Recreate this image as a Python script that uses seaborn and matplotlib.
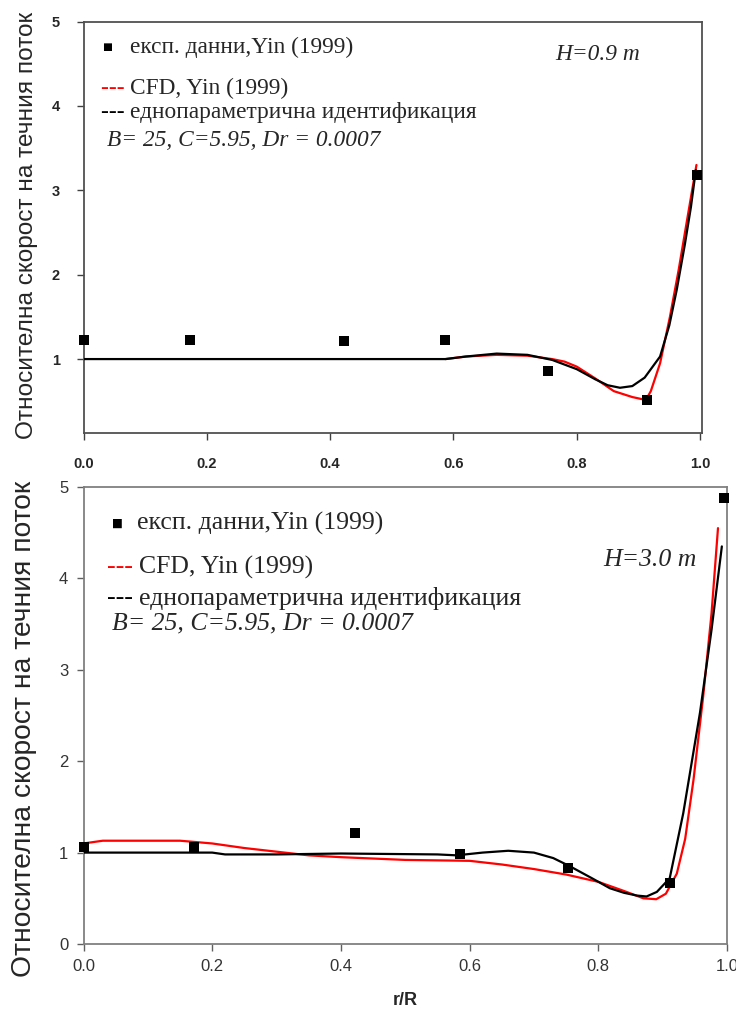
import matplotlib
matplotlib.use("Agg")
import matplotlib.pyplot as plt
import seaborn as sns

# ---------------- data ----------------
# top panel (H = 0.9 m)
exp_x_top = [0.0, 0.172, 0.423, 0.587, 0.753, 0.913, 0.995]
exp_y_top = [1.23, 1.23, 1.21, 1.23, 0.86, 0.515, 3.18]

cfd_x_top = [0.587, 0.62, 0.67, 0.72, 0.76, 0.78, 0.80, 0.83, 0.86, 0.89, 0.912,
             0.92, 0.935, 0.951, 0.965, 0.98, 0.994]
cfd_y_top = [1.0, 1.03, 1.05, 1.04, 1.0, 0.97, 0.91, 0.77, 0.62, 0.55, 0.515,
             0.62, 0.95, 1.5, 2.05, 2.7, 3.3]

id_x_top = [0.0, 0.587, 0.62, 0.67, 0.72, 0.76, 0.80, 0.83, 0.85, 0.87, 0.89,
            0.91, 0.935, 0.95, 0.962, 0.975, 0.985, 0.993]
id_y_top = [1.0, 1.0, 1.03, 1.065, 1.05, 0.99, 0.88, 0.76, 0.69, 0.66, 0.68,
            0.78, 1.03, 1.4, 1.82, 2.35, 2.8, 3.24]

# bottom panel (H = 3.0 m)
exp_x_bot = [0.0, 0.172, 0.422, 0.585, 0.753, 0.911, 0.995]
exp_y_bot = [1.06, 1.06, 1.21, 0.98, 0.83, 0.67, 4.88]

cfd_x_bot = [0.0, 0.03, 0.08, 0.15, 0.2, 0.25, 0.3, 0.35, 0.4, 0.5, 0.6, 0.65,
             0.7, 0.75, 0.8, 0.84, 0.87, 0.89, 0.905, 0.922, 0.935, 0.948,
             0.963, 0.976, 0.986]
cfd_y_bot = [1.1, 1.13, 1.13, 1.13, 1.1, 1.05, 1.01, 0.97, 0.95, 0.92, 0.91, 0.87,
             0.82, 0.76, 0.68, 0.58, 0.50, 0.49, 0.55, 0.77, 1.15, 1.8,
             2.71, 3.62, 4.55]

id_x_bot = [0.0, 0.2, 0.22, 0.3, 0.4, 0.55, 0.58, 0.62, 0.66, 0.7, 0.73, 0.756,
            0.79, 0.818, 0.84, 0.86, 0.875, 0.891, 0.911, 0.932, 0.958, 0.976, 0.992]
id_y_bot = [1.0, 1.0, 0.98, 0.98, 0.99, 0.98, 0.97, 1.0, 1.02, 1.0, 0.94, 0.85,
            0.72, 0.61, 0.56, 0.53, 0.52, 0.57, 0.72, 1.43, 2.53, 3.44, 4.35]

x_ticks = [0.0, 0.2, 0.4, 0.6, 0.8, 1.0]
y_ticks_top = [1, 2, 3, 4, 5]
y_ticks_bot = [0, 1, 2, 3, 4, 5]

ylabel_text = "Относителна скорост на течния поток"
xlabel_text = "r/R"
leg_exp = "експ. данни,Yin (1999)"
leg_cfd = "CFD, Yin (1999)"
leg_id = "еднопараметрична идентификация"
leg_par = "B= 25, C=5.95, Dr = 0.0007"
h_top = "H=0.9 m"
h_bot = "H=3.0 m"

# ---------------- style ----------------
sns.set_style("ticks")
plt.rcParams['font.family'] = ['Liberation Sans', 'DejaVu Sans']

SERIF = ['Liberation Serif', 'DejaVu Serif']

fig = plt.figure(figsize=(7.36, 10.15), dpi=100)
W, H = 736.0, 1015.0
ax1 = fig.add_axes([83.5 / W, 1 - 433 / H, 618.5 / W, 411.5 / H])
ax2 = fig.add_axes([83.5 / W, 1 - 944 / H, 643.5 / W, 457 / H])


def draw(ax, ex, ey, cx, cy, ix, iy):
    sns.lineplot(x=cx, y=cy, ax=ax, color='#ff0000', lw=1.6, sort=False,
                 estimator=None, zorder=3)
    sns.lineplot(x=ix, y=iy, ax=ax, color='black', lw=1.6, sort=False,
                 estimator=None, zorder=4)
    sns.scatterplot(x=ex, y=ey, ax=ax, marker='s', color='black', s=60,
                    edgecolor='black', linewidth=0, zorder=5, clip_on=False)


draw(ax1, exp_x_top, exp_y_top, cfd_x_top, cfd_y_top, id_x_top, id_y_top)
draw(ax2, exp_x_bot, exp_y_bot, cfd_x_bot, cfd_y_bot, id_x_bot, id_y_bot)

# top axes formatting
ax1.set_xlim(0, 1.003)
ax1.set_ylim(0.124, 5)
ax1.set_xticks(x_ticks)
ax1.set_xticklabels([f"{v:.1f}" for v in x_ticks], fontweight='bold', fontsize=10.5)
ax1.set_yticks(y_ticks_top)
ax1.set_yticklabels([str(v) for v in y_ticks_top], fontweight='bold', fontsize=10.5)
ax1.tick_params(length=5, width=1, color='#404040', pad=12)
for s in ax1.spines.values():
    s.set_color('#505050')
    s.set_linewidth(1.3)

# bottom axes formatting
ax2.set_xlim(0, 1.0)
ax2.set_ylim(0, 5)
ax2.set_xticks(x_ticks)
ax2.set_xticklabels([f"{v:.1f}" for v in x_ticks], fontsize=12, color='#333333')
ax2.set_yticks(y_ticks_bot)
ax2.set_yticklabels([str(v) for v in y_ticks_bot], fontsize=12, color='#333333')
ax2.tick_params(length=5, width=1, color='#606060', pad=6)
for s in ax2.spines.values():
    s.set_color('#808080')
    s.set_linewidth(1.3)

ax1.set_xlabel("")
ax2.set_xlabel(xlabel_text, fontsize=13, fontweight='bold', labelpad=13)
ax1.set_ylabel(ylabel_text, fontsize=17.6)
ax1.yaxis.set_label_coords((38 - 83.5) / 618.5, 0.505)
ax2.set_ylabel(ylabel_text, fontsize=20.3)
ax2.yaxis.set_label_coords((37 - 83.5) / 643.5, 0.47)


def legend_block(ax, fs, mk, tx, ycoords, dash_x, par_x, hx, hy, htxt):
    y0, y1, y2, y3 = ycoords
    ax.text(mk, y0, "■", transform=ax.transAxes, fontsize=fs * 0.45,
            family=['DejaVu Sans'], va='center', ha='left', color='black')
    ax.text(tx, y0, leg_exp, transform=ax.transAxes, fontsize=fs,
            family=SERIF, va='center', ha='left')
    t = ax.text(dash_x, y1, "--- ", transform=ax.transAxes, fontsize=fs,
                family=SERIF, va='center', ha='left', color='#ff0000')
    ax.annotate(leg_cfd, xycoords=t, xy=(1, 0.5), va='center', ha='left',
                fontsize=fs, family=SERIF)
    t2 = ax.text(dash_x, y2, "--- ", transform=ax.transAxes, fontsize=fs,
                 family=SERIF, va='center', ha='left', color='black')
    ax.annotate(leg_id, xycoords=t2, xy=(1, 0.5), va='center', ha='left',
                fontsize=fs, family=SERIF)
    ax.text(par_x, y3, leg_par, transform=ax.transAxes, fontsize=fs,
            family=SERIF, style='italic', va='center', ha='left')
    ax.text(hx, hy, htxt, transform=ax.transAxes, fontsize=fs,
            family=SERIF, style='italic', va='center', ha='left')


legend_block(ax1, 16.8, 0.030, 0.075, (0.938, 0.838, 0.778, 0.712),
             0.028, 0.038, 0.762, 0.919, h_top)
legend_block(ax2, 18.5, 0.044, 0.083, (0.921, 0.825, 0.757, 0.702),
             0.036, 0.045, 0.807, 0.840, h_bot)

fig.savefig("out.png", dpi=100, facecolor='white')
